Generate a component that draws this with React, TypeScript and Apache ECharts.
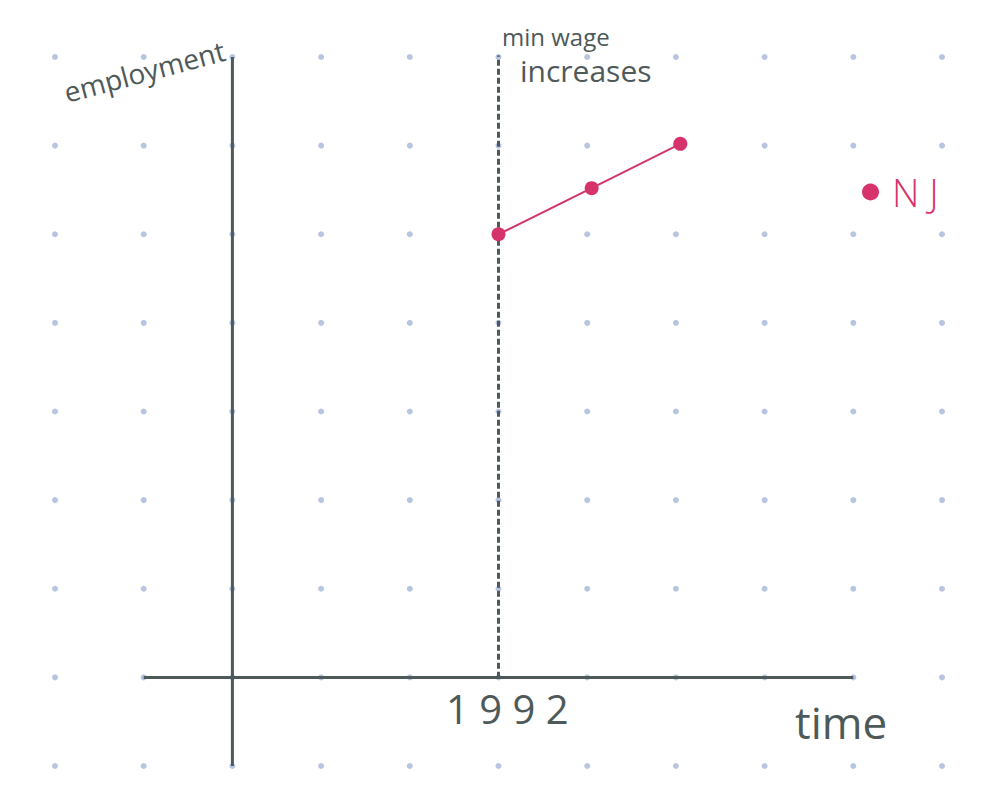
import React, { useEffect, useRef } from "react";
import * as echarts from "echarts";

const gridXs = [-2, -1, 0, 1, 2, 3, 4, 5, 6, 7, 8];
const gridYs = [-1, 0, 1, 2, 3, 4, 5, 6, 7];
const njX = [3, 4.05, 5.05];
const njY = [5, 5.52, 6.02];
const yAxisLine = [[0, -1], [0, 7]];
const xAxisLine = [[-1, 0], [7, 0]];
const eventLine = [[3, 7.07], [3, 0]];
const eventYearLabel = "1992";
const eventLabel = ["min wage", "increases"];
const seriesName = "NJ";

const INK = "#4e5959";
const PINK = "#d6336c";
const DOT = "#a6b6d8";
const FONT = "'Open Sans', 'DejaVu Sans', sans-serif";

export default function App() {
  const ref = useRef<HTMLDivElement>(null);
  useEffect(() => {
    if (!ref.current) return;
    const chart = echarts.init(ref.current, null, { renderer: "svg" });
    const dots: number[][] = [];
    gridXs.forEach((x) => gridYs.forEach((y) => dots.push([x, y])));
    chart.setOption({
      animation: false,
      backgroundColor: "#ffffff",
      grid: { left: 55, right: 58, top: 57, bottom: 40 },
      xAxis: {
        type: "value", min: -2, max: 8, interval: 1,
        axisLine: { show: false }, axisTick: { show: false },
        axisLabel: { show: false }, splitLine: { show: false },
      },
      yAxis: {
        type: "value", min: -1, max: 7, interval: 1,
        axisLine: { show: false }, axisTick: { show: false },
        axisLabel: { show: false }, splitLine: { show: false },
      },
      legend: {
        show: true,
        data: [{ name: seriesName, icon: "circle" }],
        left: 857, top: 168,
        itemWidth: 17, itemHeight: 17, itemGap: 0,
        formatter: (n: string) => n.split("").join(" "),
        textStyle: { color: PINK, fontSize: 38, fontFamily: FONT, fontWeight: 300, padding: [0, 0, 0, 8] },
      },
      series: [
        {
          type: "scatter", name: "dots", data: dots, symbolSize: 6, silent: true,
          itemStyle: { color: DOT }, z: 1,
        },
        {
          type: "line", name: "yaxis", data: yAxisLine, symbol: "none",
          lineStyle: { color: INK, width: 3 }, z: 2,
        },
        {
          type: "line", name: "xaxis", data: xAxisLine, symbol: "none",
          lineStyle: { color: INK, width: 3 }, z: 2,
        },
        {
          type: "line", name: "event", data: eventLine, symbol: "none",
          lineStyle: { color: INK, width: 3, type: [6, 3] }, z: 2,
        },
        {
          type: "line", name: seriesName, data: njX.map((x, i) => [x, njY[i]]),
          symbol: "circle", symbolSize: 14, color: PINK,
          lineStyle: { color: PINK, width: 2 },
          itemStyle: { color: PINK }, z: 3,
        },
      ],
      graphic: [
        {
          type: "text", x: 68, y: 106, rotation: (15 * Math.PI) / 180,
          style: { text: "employment", fill: INK, font: `400 28px ${FONT}`, textVerticalAlign: "bottom" },
        },
        {
          type: "text", x: 502, y: 24,
          style: { text: eventLabel[0], fill: INK, font: `400 24px ${FONT}` },
        },
        {
          type: "text", x: 520, y: 55,
          style: { text: eventLabel[1], fill: INK, font: `400 30px ${FONT}` },
        },
        {
          type: "text", x: 446, y: 688,
          style: { text: eventYearLabel.split("").join(" "), fill: INK, font: `400 40px ${FONT}` },
        },
        {
          type: "text", x: 795, y: 700,
          style: { text: "time", fill: INK, font: `400 44px ${FONT}` },
        },
      ],
    });
    return () => chart.dispose();
  }, []);
  return (
    <div
      ref={ref}
      style={{ position: "fixed", left: 0, top: 0, width: 1000, height: 806, background: "#fff" }}
    />
  );
}
